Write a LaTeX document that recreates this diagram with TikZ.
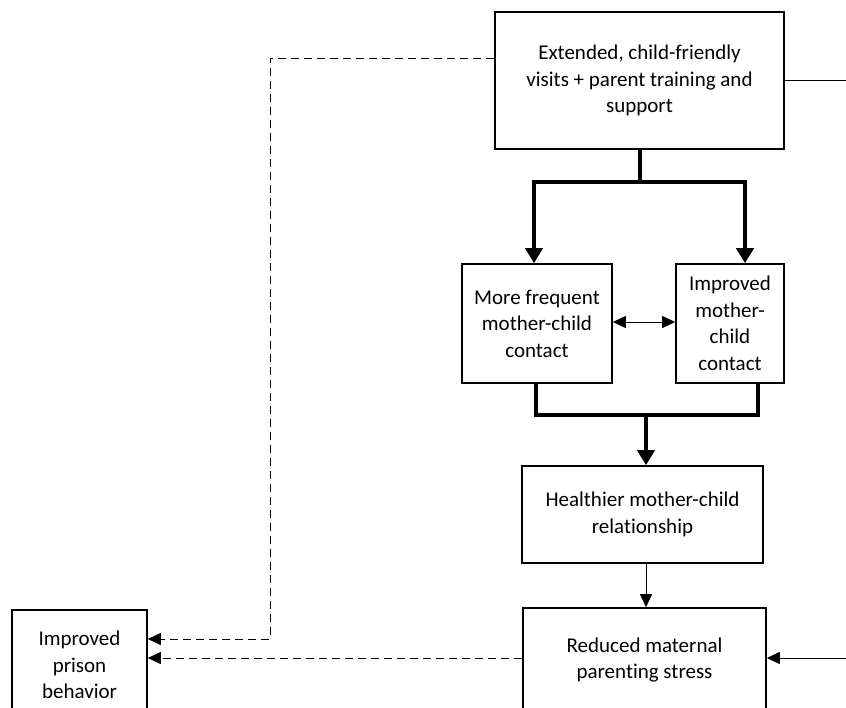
\documentclass[tikz,border=0pt]{standalone}
\usepackage{fontspec}
\setmainfont[Ligatures=NoCommon]{Carlito}
\usetikzlibrary{arrows.meta,calc}
\begin{document}
\begin{tikzpicture}[x=1pt,y=-1pt,
  box/.style={draw=black,line width=1.6pt,align=center,inner sep=0pt,
    font=\fontsize{21}{26.5}\selectfont},
  heavy/.style={line width=4pt},
  heavytip/.style={-{Triangle[width=17pt,length=15pt]}},
  thin/.style={line width=0.8pt},
  thintip/.style={-{Triangle[width=12pt,length=13pt]}},
  dashline/.style={line width=0.8pt,dash pattern=on 8pt off 5pt}]
\useasboundingbox (0,0) rectangle (846,707);
\clip (0,0) rectangle (846,707);

% boxes
\node[box,minimum width=289pt,minimum height=137pt] (top) at (639.5,80.5)
  {Extended, child-friendly\\visits + parent training and\\support};
\node[box,minimum width=150pt,minimum height=119pt] (mfc) at (537,323.5)
  {More frequent\\mother-child\\contact};
\node[box,minimum width=108pt,minimum height=119pt] (imc) at (730,323.5)
  {Improved\\mother-\\child\\contact};
\node[box,minimum width=241pt,minimum height=97pt] (hmc) at (642.5,514.5)
  {Healthier mother-child\\relationship};
\node[box,minimum width=243pt,minimum height=104pt] (rmp) at (644.5,660)
  {Reduced maternal\\parenting stress};
\node[box,minimum width=135pt,minimum height=110pt] (ipb) at (79.5,665)
  {Improved\\prison\\behavior};

% junction points
\coordinate (fl) at (534,182);
\coordinate (fr) at (745,182);
\coordinate (jl) at (536,415);
\coordinate (jr) at (758,415);
\coordinate (jm) at (646,415);
\coordinate (dk) at (270,58);
\coordinate (dl) at (270,639);
\coordinate (edgeA) at (846,80);
\coordinate (edgeB) at (846,658);

% heavy fork out of the top box
\draw[heavy] (top.south) -- (top.south |- fl);
\draw[heavy,{Triangle[width=17pt,length=15pt]}-{Triangle[width=17pt,length=15pt]}]
  (fl |- mfc.north) -- (fl) -- (fr) -- (fr |- imc.north);

% heavy join into the relationship box
\draw[heavy] (mfc.south -| jl) -- (jl) -- (jr) -- (imc.south -| jr);
\draw[heavy,heavytip] (jm) -- (jm |- hmc.north);

% thin links
\draw[thin,{Triangle[width=12pt,length=13pt]}-{Triangle[width=12pt,length=13pt]}]
  (mfc.east |- 0,322) -- (imc.west |- 0,322);
\draw[thin,thintip] (hmc.south -| jm) -- (rmp.north -| jm);
\draw[thin] (top.east) -- (top.east -| edgeA);
\draw[thin,thintip] (edgeB) -- (rmp.east |- edgeB);

% dashed links to prison behavior
\draw[dashline,thintip] (top.west |- dk) -- (dk) -- (dl) -- (ipb.east |- dl);
\draw[dashline,thintip] (rmp.west |- edgeB) -- (ipb.east |- edgeB);
\end{tikzpicture}
\end{document}
